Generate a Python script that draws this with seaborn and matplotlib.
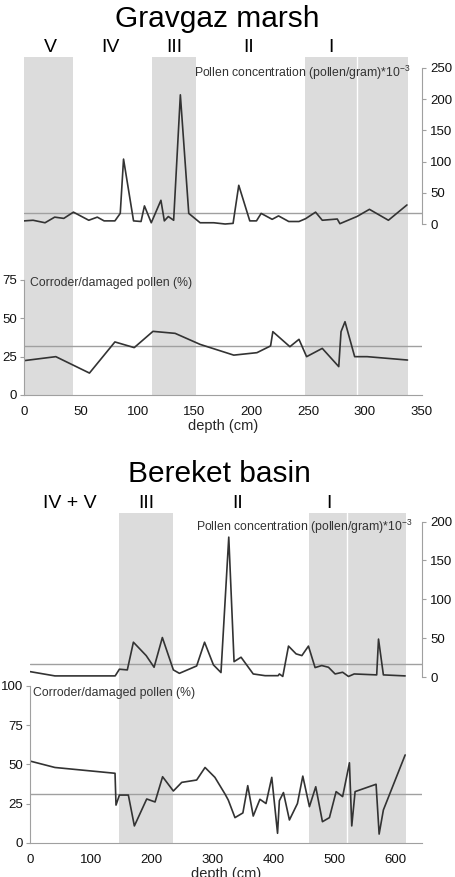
import matplotlib
matplotlib.use('Agg')
import matplotlib.pyplot as plt
import numpy as np
import seaborn as sns

# Gravgaz marsh
grav_pollen_depth = [0, 8, 18.5, 27, 35, 43.5, 57, 64.5, 70.5, 80, 84.7, 87.6, 96.4, 103, 106, 112,
                     120.5, 123.5, 127, 131.7, 137.6, 145, 155, 167, 177, 184, 189, 198.7, 204.6,
                     208.7, 218.4, 224, 233, 242, 247.8, 256.6, 262.5, 275.7, 278, 293, 304, 320.7, 337]
grav_pollen = [5, 6, 2, 11, 9, 19, 6, 11, 5, 5, 17, 104, 5, 4, 29, 2, 38, 5, 12, 6, 207, 17, 2, 2,
               0, 1, 62, 5, 5, 17, 7.5, 13, 4, 4, 8.5, 19, 6, 8, 0.5, 12, 23.5, 6, 30.5]
grav_corr_depth = [0, 28, 57.6, 80, 97, 113.5, 133, 155, 177, 184.6, 205, 217, 219, 234, 242,
                   248.7, 262.5, 277, 279, 282.5, 291, 302, 337.5]
grav_corr = [22.4, 25, 14.3, 34.6, 30.9, 41.5, 40.2, 33, 27.8, 26, 27.6, 32, 41.3, 31.5, 36.3,
             25, 30.4, 18.5, 41.3, 47.8, 25, 25, 22.8]
grav_pollen_mean = 18
grav_corr_mean = 32
grav_zones = [(0, 43.5), (112.6, 151.7), (247, 293.5), (293.5, 338)]
grav_zone_names = ['V', 'IV', 'III', 'II', 'I']
grav_zone_label_x = [23, 76, 132, 198, 270]

# Bereket basin
ber_pollen_depth = [0, 41, 140, 147, 160, 170, 191, 204, 217.6, 235.7, 245.6, 274, 287, 301.6, 314,
                    326.8, 335.5, 347, 367, 386.5, 408, 410, 415.6, 425, 437.5, 447, 457.8, 468.7,
                    479.7, 490.7, 501.6, 514, 523.6, 533, 570, 573, 581, 616.8]
ber_pollen = [7.2, 1.7, 1.7, 10.3, 9.4, 45, 27.8, 12.8, 51, 9.4, 5, 14.5, 45, 15.8, 6, 180, 20,
              25.7, 4.2, 2, 2, 4.2, 1, 40, 30, 27.8, 40, 12.4, 15, 12.8, 4.2, 6.4, 1, 4.2, 3, 49, 3, 1.7]
ber_corr_depth = [0, 41, 139.8, 141.4, 147, 161.7, 171.6, 191.9, 205.6, 218, 235.7, 249.5, 274,
                  287.8, 304, 320.7, 326, 337, 350, 358, 367, 378, 388, 397.5, 407, 410, 416.7,
                  426.5, 439.7, 448.5, 459.4, 469.8, 480.8, 492.3, 503.3, 514, 525.2, 529, 534.5,
                  569, 574, 581, 616.8]
ber_corr = [52.1, 48, 44.3, 24, 30.4, 30.4, 10.7, 27.9, 26, 42.1, 33, 38.5, 40, 48, 41.7, 31, 27.2,
            16, 19, 36.4, 17, 27.7, 25, 41.7, 6, 26.8, 32, 14.5, 25, 42.5, 23, 35.7, 13.4, 16, 32.6,
            29.4, 51, 10.7, 32.6, 37.3, 5.5, 20.9, 56]
ber_pollen_mean = 17
ber_corr_mean = 31
ber_zones = [(146.9, 235.7), (459.4, 521), (521, 618.4)]
ber_zone_names = ['IV + V', 'III', 'II', 'I']
ber_zone_label_x = [66, 191, 342, 492]

W, H = 455, 877
LINE = '#333333'
GRID = '#a0a0a0'
SHADE = '#dcdcdc'


def draw_panel(fig, rect, title, title_y, pollen_depth, pollen, corr_depth, corr,
               pollen_mean, corr_mean, zones, zone_names, zone_label_x, zone_y,
               xmax, xticks, corr_lim, corr_ticks, pollen_lim, pollen_ticks, label_pos):
    left, top, right, bottom = rect
    ax = fig.add_axes([left / W, 1 - bottom / H, (right - left) / W, (bottom - top) / H])
    ax2 = ax.twinx()

    for a, b in zones:
        ax.axvspan(a, b, color=SHADE, lw=0, zorder=0)
    # thin white seam between the two adjacent zone I bands
    for (a, b), (c, d) in zip(zones[:-1], zones[1:]):
        if abs(b - c) < 1:
            ax.axvline(b, color='white', lw=1, zorder=0.5)

    sns.lineplot(x=corr_depth, y=corr, ax=ax, color=LINE, lw=1.2, sort=False, estimator=None)
    ax.axhline(corr_mean, color=GRID, lw=1.0, zorder=1)
    sns.lineplot(x=pollen_depth, y=pollen, ax=ax2, color=LINE, lw=1.2, sort=False, estimator=None)
    ax2.axhline(pollen_mean, color=GRID, lw=1.0, zorder=1)

    ax.set_xlim(0, xmax)
    ax.set_xticks(xticks)
    ax.set_ylim(*corr_lim)
    ax.set_yticks(corr_ticks)
    ax2.set_ylim(*pollen_lim)
    ax2.set_yticks(pollen_ticks)

    for s in ['top', 'right']:
        ax.spines[s].set_visible(False)
    for s in ['top', 'left', 'bottom']:
        ax2.spines[s].set_visible(False)
    ax.spines['left'].set_bounds(corr_ticks[0], corr_ticks[-1])
    ax2.spines['right'].set_bounds(pollen_ticks[0], pollen_ticks[-1])
    for sp in [ax.spines['left'], ax.spines['bottom'], ax2.spines['right']]:
        sp.set_color(GRID)
        sp.set_linewidth(0.8)
    ax.tick_params(axis='both', direction='out', length=3, width=0.8, color=GRID,
                   labelsize=9.5, pad=2, labelcolor='#111111')
    ax.tick_params(axis='x', pad=5)
    ax2.tick_params(axis='y', direction='out', length=3, width=0.8, color=GRID,
                    labelsize=9.5, pad=3, labelcolor='#111111')
    ax.set_ylabel('')
    ax2.set_ylabel('')
    ax.set_xlabel('depth (cm)', fontsize=10.5, labelpad=1)
    ax.set_facecolor('none')

    (px, py), (cx, cy) = label_pos
    fig.text(px / W, 1 - py / H, 'Pollen concentration (pollen/gram)*10$^{-3}$',
             ha='right', va='center', fontsize=8.8, color='#333333')
    fig.text(cx / W, 1 - cy / H, 'Corroder/damaged pollen (%)',
             ha='left', va='center', fontsize=8.8, color='#333333')

    fig.text(((left + right) / 2 - 6) / W, 1 - title_y / H, title, ha='center', va='center',
             fontsize=21.5, color='black')
    x_to_px = lambda d: left + (right - left) * d / xmax
    for name, xd in zip(zone_names, zone_label_x):
        fig.text(x_to_px(xd) / W, 1 - zone_y / H, name, ha='center', va='center',
                 fontsize=14, color='black')
    return ax, ax2


sns.set_style('white')
plt.rcParams['font.family'] = ['Liberation Sans', 'DejaVu Sans']
plt.rcParams['mathtext.fontset'] = 'custom'
plt.rcParams['mathtext.rm'] = 'Liberation Sans'
plt.rcParams['mathtext.it'] = 'Liberation Sans'

fig = plt.figure(figsize=(W / 100, H / 100), dpi=100)

draw_panel(fig, (24, 57, 421.7, 395), 'Gravgaz marsh', 19,
           grav_pollen_depth, grav_pollen, grav_corr_depth, grav_corr,
           grav_pollen_mean, grav_corr_mean, grav_zones, grav_zone_names, grav_zone_label_x, 47,
           350, np.arange(0, 351, 50), (0, 220.4), [0, 25, 50, 75],
           (-274, 267.6), [0, 50, 100, 150, 200, 250],
           ((410, 73), (30, 283)))

draw_panel(fig, (30, 513, 421.7, 842.7), 'Bereket basin', 474,
           ber_pollen_depth, ber_pollen, ber_corr_depth, ber_corr,
           ber_pollen_mean, ber_corr_mean, ber_zones, ber_zone_names, ber_zone_label_x, 503,
           644, np.arange(0, 601, 100), (0, 210.4), [0, 25, 50, 75, 100],
           (-212.6, 211), [0, 50, 100, 150, 200],
           ((412, 527), (33, 693)))

fig.savefig('out.png', dpi=100)
